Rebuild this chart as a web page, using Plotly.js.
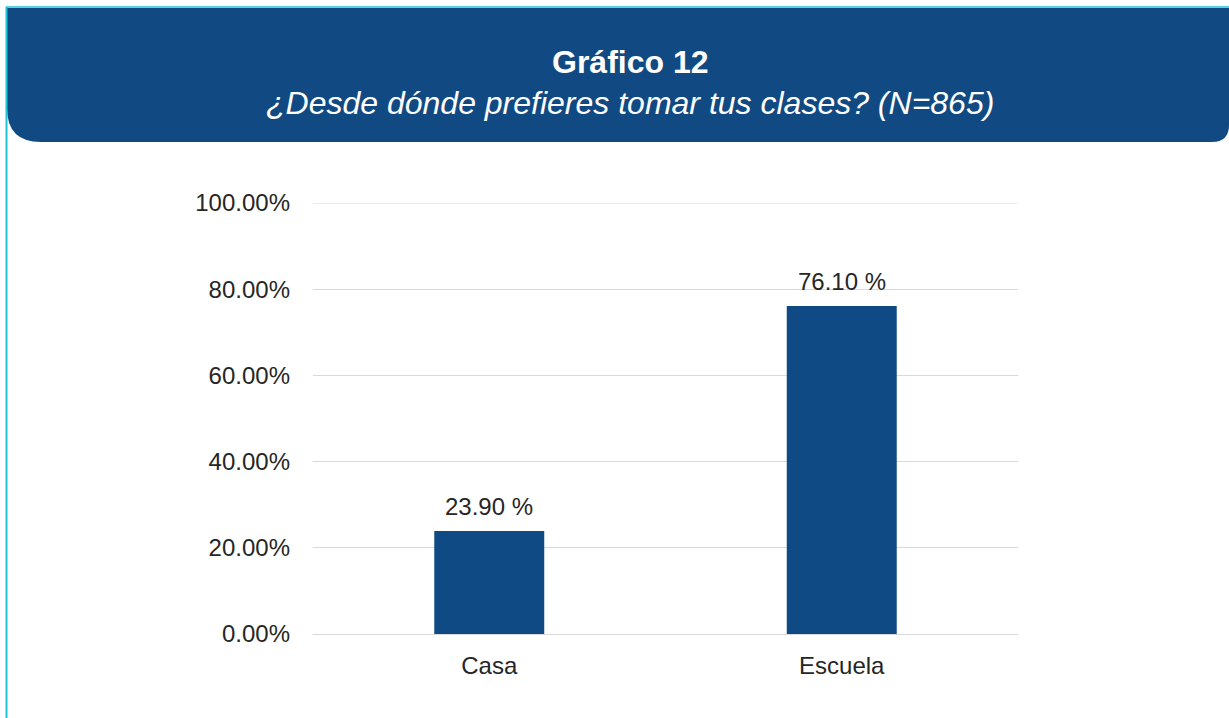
<!DOCTYPE html>
<html>
<head>
<meta charset="utf-8">
<script src="https://cdn.plot.ly/plotly-3.0.1.min.js"></script>
<style>
html,body{margin:0;padding:0;background:#fff;}
#chart{width:1229px;height:718px;}
</style>
</head>
<body>
<div id="chart"></div>
<script>
// Data
const categories = ["Casa", "Escuela"];
const values = [23.90, 76.10];
const valueLabels = ["23.90 %", "76.10 %"];
const tickValues = [0, 20, 40, 60, 80, 100];
const tickLabels = ["0.00%", "20.00%", "40.00%", "60.00%", "80.00%", "100.00%"];
const titleMain = "Gráfico 12";
const titleSub = "¿Desde dónde prefieres tomar tus clases? (N=865)";

// Layout geometry (pixels)
const W = 1229, H = 718;
const PL = 313, PR = 1018, PT = 203, PB = 634;
const px = x => (x - PL) / (PR - PL);
const py = y => (PB - y) / (PB - PT);
const FONT = 'Liberation Sans, Arial, sans-serif';
const yMax = tickValues[tickValues.length - 1];

const headerPath = [
  `M${px(7)},${py(8)}`,
  `L${px(1229)},${py(8)}`,
  `L${px(1229)},${py(125)}`,
  `Q${px(1229)},${py(142)} ${px(1212)},${py(142)}`,
  `L${px(41)},${py(142)}`,
  `Q${px(7)},${py(142)} ${px(7)},${py(108)}`,
  'Z'
].join(' ');

const trace = {
  type: 'bar',
  x: categories,
  y: values,
  marker: {color: '#0f4a85', line: {width: 0}},
  width: 0.312,
  hoverinfo: 'skip'
};

const valueAnnotations = categories.map((c, i) => ({
  xref: 'x', yref: 'y', x: c, y: values[i],
  text: valueLabels[i], showarrow: false,
  xanchor: 'center', yanchor: 'bottom', yshift: 9,
  font: {family: FONT, size: 24, color: '#262626'}
}));

const layout = {
  width: W, height: H,
  margin: {l: PL, r: W - PR, t: PT, b: H - PB, pad: 0},
  paper_bgcolor: '#ffffff',
  plot_bgcolor: '#ffffff',
  showlegend: false,
  font: {family: FONT, color: '#262626'},
  xaxis: {
    type: 'category',
    showgrid: false,
    showline: true,
    linecolor: '#d9d9d9',
    linewidth: 1,
    ticks: '',
    tickfont: {size: 24, color: '#262626'},
    ticklabelstandoff: 10,
    fixedrange: true
  },
  yaxis: {
    range: [0, yMax],
    tickvals: tickValues,
    ticktext: tickLabels,
    showgrid: true,
    gridcolor: '#d9d9d9',
    gridwidth: 1,
    zeroline: false,
    showline: false,
    ticks: '',
    tickfont: {size: 24, color: '#262626'},
    ticklabelstandoff: 22,
    fixedrange: true
  },
  shapes: [
    {type: 'path', xref: 'paper', yref: 'paper', path: headerPath,
     fillcolor: '#114a82', line: {width: 0}, layer: 'below'},
    {type: 'line', xref: 'paper', yref: 'y', x0: 0, x1: 1, y0: yMax, y1: yMax,
     line: {color: '#d9d9d9', width: 1}, layer: 'below'},
    {type: 'line', xref: 'paper', yref: 'paper',
     x0: px(6.5), x1: px(6.5), y0: py(7), y1: py(718),
     line: {color: '#1cc3d8', width: 2}},
    {type: 'line', xref: 'paper', yref: 'paper',
     x0: px(6), x1: px(1229), y0: py(7), y1: py(7),
     line: {color: '#1cc3d8', width: 1.5}}
  ],
  annotations: [
    {xref: 'paper', yref: 'paper', x: px(630), y: py(62), xanchor: 'center', yanchor: 'middle',
     text: '<b>' + titleMain + '</b>', showarrow: false,
     font: {family: FONT, size: 32, color: '#ffffff'}},
    {xref: 'paper', yref: 'paper', x: px(630), y: py(103), xanchor: 'center', yanchor: 'middle',
     text: '<i>' + titleSub + '</i>', showarrow: false,
     font: {family: FONT, size: 32, color: '#ffffff'}}
  ].concat(valueAnnotations)
};

Plotly.newPlot('chart', [trace], layout, {displayModeBar: false, staticPlot: true});
</script>
</body>
</html>
